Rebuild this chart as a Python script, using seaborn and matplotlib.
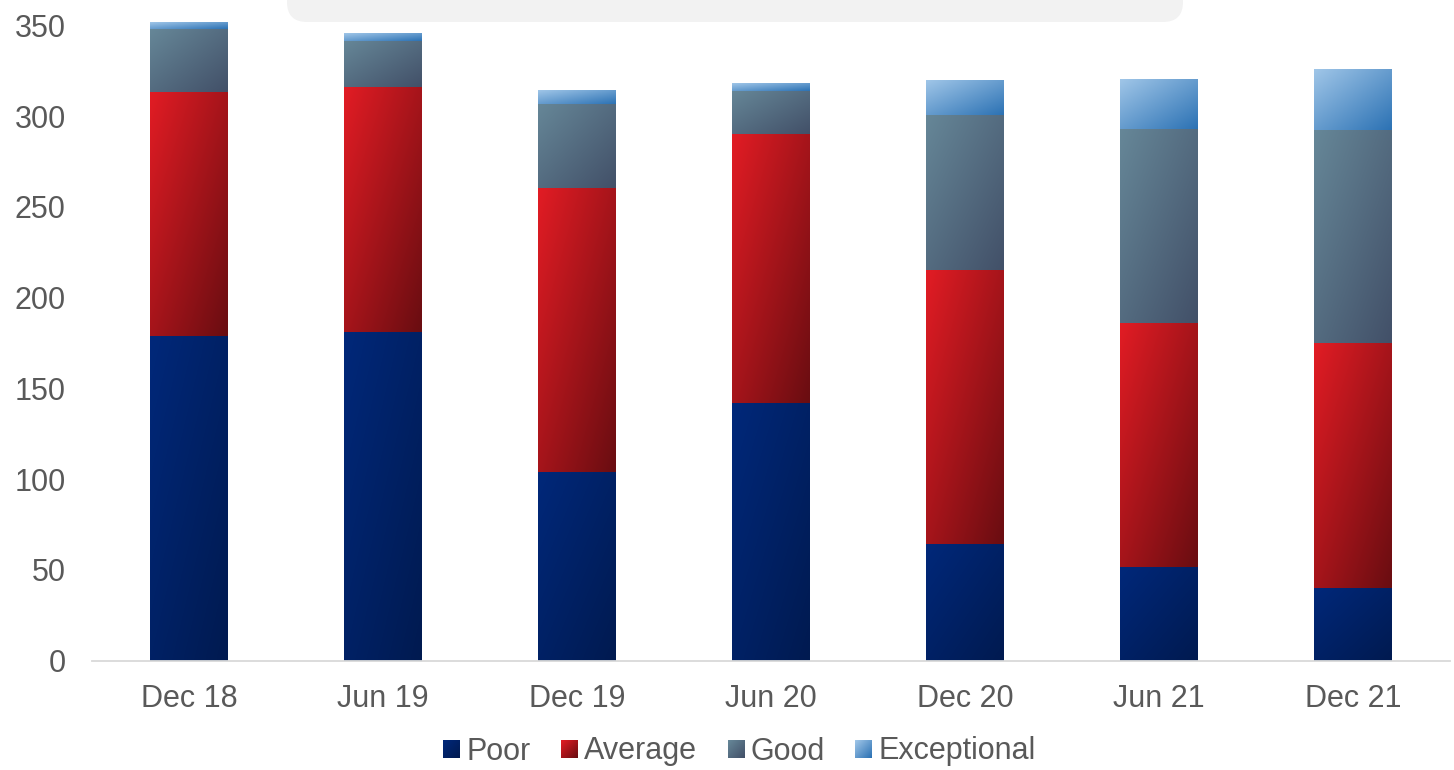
import numpy as np
import pandas as pd
import matplotlib
matplotlib.use("Agg")
import matplotlib.pyplot as plt
import seaborn as sns
from matplotlib.patches import FancyBboxPatch, Patch
from matplotlib.transforms import IdentityTransform

# ---------------- data ----------------
periods = ["Dec 18", "Jun 19", "Dec 19", "Jun 20", "Dec 20", "Jun 21", "Dec 21"]
poor = [179, 181, 104, 142, 64, 51.5, 40]
average = [134.5, 135, 156.5, 148, 151, 134.5, 135]
good = [34.5, 25.5, 46.3, 24, 85.5, 107, 117.5]
exceptional = [3.5, 4.4, 7.7, 4, 19, 27.5, 33.5]
series_names = ["Poor", "Average", "Good", "Exceptional"]
yticks = [0, 50, 100, 150, 200, 250, 300, 350]

# gradient colours (top-left light, bottom-right dark)
grad_light = {"Poor": (0, 40, 122), "Average": (226, 28, 36),
              "Good": (102, 135, 152), "Exceptional": (160, 198, 232)}
grad_dark = {"Poor": (0, 26, 80), "Average": (105, 13, 17),
             "Good": (66, 80, 104), "Exceptional": (44, 114, 180)}

values = {"Poor": poor, "Average": average, "Good": good, "Exceptional": exceptional}

W, H = 1454, 770
DPI = 100
FS = 22
sns.set_theme(style="white")
plt.rcParams["font.family"] = ["Liberation Sans", "DejaVu Sans"]
TXT = "#595959"

fig = plt.figure(figsize=(W / DPI, H / DPI), dpi=DPI)
ax = fig.add_axes([92 / W, (H - 660.5) / H, 1358 / W, 660.5 / H])

# cumulative stacks
cum = {}
running = np.zeros(len(periods))
bottoms = {}
for s in series_names:
    bottoms[s] = running.copy()
    running = running + np.array(values[s], dtype=float)
    cum[s] = running.copy()

df = pd.DataFrame({"period": [p for s in series_names for p in periods],
                   "series": [s for s in series_names for _ in periods],
                   "cum": np.concatenate([cum[s] for s in series_names])})


def mid(s):
    a = np.array(grad_light[s]) / 255
    b = np.array(grad_dark[s]) / 255
    return tuple((a + b) / 2)


patches = {}
for s in reversed(series_names):
    n0 = len(ax.patches)
    sns.barplot(data=df[df.series == s], x="period", y="cum", order=periods,
                color=mid(s), saturation=1, width=0.4, errorbar=None, ax=ax,
                linewidth=0, zorder=2)
    patches[s] = ax.patches[n0:]

N = 96
u = np.linspace(0, 1, N)
t = (u[None, :] + u[:, None]) / 2


def grad_img(s):
    a = np.array(grad_light[s]) / 255
    b = np.array(grad_dark[s]) / 255
    return a[None, None, :] * (1 - t[..., None]) + b[None, None, :] * t[..., None]


for s in series_names:
    img = grad_img(s)
    for i, p in enumerate(patches[s]):
        x0 = p.get_x()
        w = p.get_width()
        ax.imshow(img, extent=[x0, x0 + w, bottoms[s][i], cum[s][i]],
                  origin="upper", aspect="auto", interpolation="bilinear", zorder=3)

ax.set_xlim(-0.5, len(periods) - 0.5)
ax.set_ylim(0, 364)
ax.set_yticks(yticks)
ax.set_yticklabels([str(v) for v in yticks])
ax.set_xlabel("")
ax.set_ylabel("")
for side in ["top", "right", "left"]:
    ax.spines[side].set_visible(False)
ax.spines["bottom"].set_color("#D9D9D9")
ax.spines["bottom"].set_linewidth(1.3)
ax.spines["bottom"].set_zorder(4)
ax.tick_params(axis="both", length=0, labelsize=FS, colors=TXT)
ax.tick_params(axis="y", pad=19)
ax.tick_params(axis="x", pad=17)
ax.grid(False)

# grey rounded box at top (clipped title area)
box = FancyBboxPatch((287, H - 22), 896, 80, boxstyle="round,pad=0,rounding_size=20",
                     transform=IdentityTransform(), facecolor="#F2F2F2",
                     edgecolor="none", zorder=0)
fig.patches.append(box)

handles = [Patch(facecolor=mid(s), edgecolor="none") for s in series_names]
leg = fig.legend(handles, series_names, loc="center",
                 bbox_to_anchor=(739.5 / W, (H - 751.5) / H),
                 ncol=4, frameon=False, fontsize=FS, handlelength=0.55,
                 handleheight=0.55, handletextpad=0.2, columnspacing=1.0,
                 borderaxespad=0.0)
for txt in leg.get_texts():
    txt.set_color(TXT)

fig.canvas.draw()
renderer = fig.canvas.get_renderer()
for s, h in zip(series_names, leg.legend_handles):
    bb = h.get_window_extent(renderer)
    sz = int(round(bb.width))
    hh = int(round(bb.height))
    uu = np.linspace(0, 1, sz)
    vv = np.linspace(0, 1, hh)
    tt = (uu[None, :] + vv[:, None]) / 2
    a = np.array(grad_light[s]) / 255
    b = np.array(grad_dark[s]) / 255
    arr = a[None, None, :] * (1 - tt[..., None]) + b[None, None, :] * tt[..., None]
    h.set_visible(False)
    fig.figimage(arr, xo=int(round(bb.x0)), yo=int(round(bb.y0)), origin="upper", zorder=10)

fig.savefig("out.png", dpi=DPI)
